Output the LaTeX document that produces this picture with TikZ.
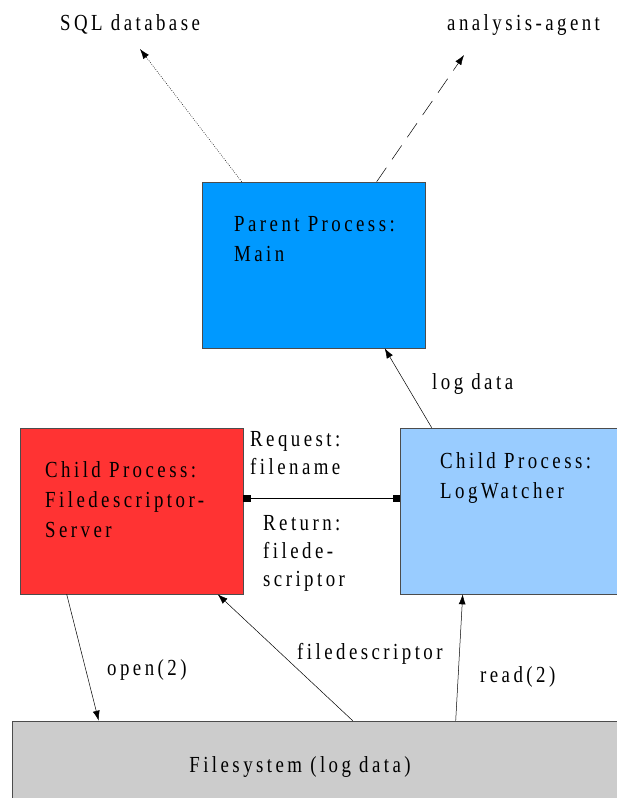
\documentclass[tikz,border=0pt]{standalone}
\usepackage{fontspec}
\setmainfont{Liberation Serif}[FakeStretch=0.82,LetterSpace=15]
\usetikzlibrary{arrows.meta}
\definecolor{parentblue}{RGB}{0,153,255}
\definecolor{childred}{RGB}{255,51,51}
\definecolor{childblue}{RGB}{153,204,255}
\definecolor{fsgray}{RGB}{204,204,204}
\tikzset{
  procbox/.style={draw=black!70, line width=0.6pt, minimum width=223pt, minimum height=166pt, inner sep=0pt},
  lbl/.style={anchor=base west, inner sep=0pt, align=left, font=\fontsize{23}{30}\selectfont},
  flow/.style={-{Latex[length=10pt,width=7pt]}, line width=0.5pt}
}
\begin{document}
\begin{tikzpicture}[x=1pt,y=-1pt]
      \useasboundingbox (0,0) rectangle (616,798);
      \node[procbox, fill=parentblue] (main) at (313.5,265) {};
      \node[procbox, fill=childred] (fds) at (131.5,511) {};
      \node[procbox, fill=childblue, minimum width=222pt] (logw) at (511,511) {};
      \node[procbox, fill=fsgray, minimum width=610pt, minimum height=84pt] (fs) at (317,763) {};
      \coordinate (sqlend) at (140,49);
      \coordinate (agentend) at (464,55);
      % base = baseline of the last line
      \draw
        (60,30) node[lbl] (sql){SQL database}
        (447,30) node[lbl] (agent){analysis-agent}
        (234,261) node[lbl] (mainlbl){Parent Process:\\Main}
        (45,537) node[lbl] (fdslbl){Child Process:\\Filedescriptor-\\Server}
        (440,498) node[lbl] (logwlbl){Child Process:\\LogWatcher}
        (250,474) node[lbl, font=\fontsize{23}{28}\selectfont] (req){Request:\\filename}
        (263,586) node[lbl, font=\fontsize{23}{28}\selectfont] (ret){Return:\\filede-\\scriptor}
        (432,389) node[lbl] (logdata){log data}
        (107,675) node[lbl] (open){open(2)}
        (297,659) node[lbl] (fdesc){filedescriptor}
        (480,682) node[lbl] (read){read(2)}
        (300,772) node[lbl, anchor=base] (fslbl){Filesystem (log data)};
      \begin{scope}[flow]
        \draw[dash pattern=on 0.8pt off 1.4pt] ([xshift=40pt]main.north west) to (sqlend);
        \draw[dash pattern=on 17pt off 10pt] ([xshift=175pt]main.north west) to (agentend);
        \draw ([xshift=32pt]logw.north west) to ([xshift=183pt]main.south west);
        \draw ([xshift=47pt]fds.south west) to ([xshift=87pt]fs.north west);
        \draw ([xshift=341pt]fs.north west) to ([xshift=198pt]fds.south west);
        \draw ([xshift=444pt]fs.north west) to ([xshift=63pt]logw.south west);
        \draw[{Square[length=7pt,width=7pt]}-{Square[length=7pt,width=7pt]}] ([yshift=13pt]fds.east) to ([yshift=13pt]logw.west);
      \end{scope}
    \end{tikzpicture}
\end{document}
